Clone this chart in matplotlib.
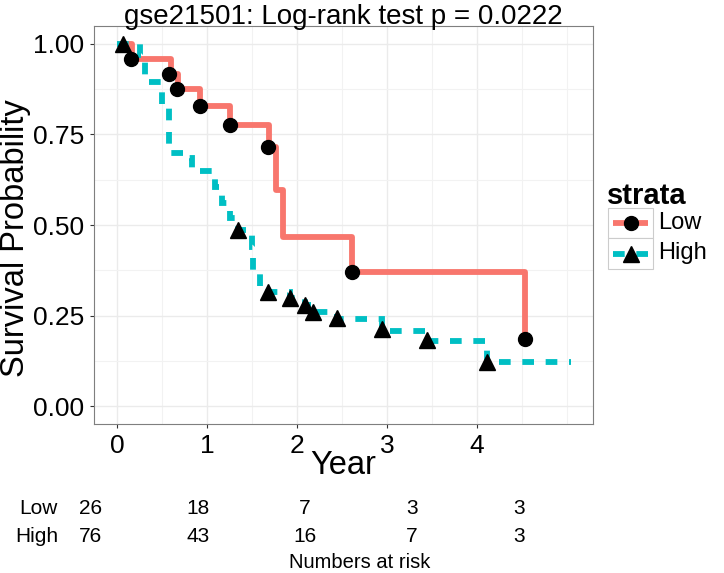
import matplotlib
matplotlib.use("Agg")
import matplotlib.pyplot as plt
from matplotlib.patches import Rectangle
from matplotlib.lines import Line2D

plt.rcParams['font.family'] = ['Liberation Sans', 'DejaVu Sans']

# ---------------- data ----------------
title = "gse21501: Log-rank test p = 0.0222"
strata = ["Low", "High"]

low_times = [0, 0.17, 0.60, 0.68, 0.92, 1.26, 1.69, 1.77, 1.84, 2.61, 4.53]
low_surv = [1.0, 0.958, 0.916, 0.875, 0.829, 0.776, 0.716, 0.597, 0.466, 0.371, 0.184]
low_mark_t = [0.16, 0.58, 0.67, 0.92, 1.26, 1.68, 2.61, 4.53]
low_mark_s = [0.958, 0.916, 0.875, 0.829, 0.776, 0.716, 0.371, 0.184]

high_times = [0, 0.26, 0.31, 0.50, 0.58, 0.76, 0.83, 1.09, 1.17, 1.26, 1.34, 1.50,
              1.51, 1.59, 1.68, 1.92, 2.09, 2.18, 2.44, 2.94, 3.44, 4.11, 5.05]
high_surv = [1.0, 0.97, 0.894, 0.83, 0.70, 0.685, 0.649, 0.605, 0.56, 0.52, 0.486, 0.44,
             0.37, 0.33, 0.315, 0.298, 0.279, 0.260, 0.240, 0.207, 0.180, 0.121, 0.121]
high_mark_t = [0.07, 1.34, 1.68, 1.92, 2.09, 2.18, 2.44, 2.94, 3.44, 4.11]
high_mark_s = [1.0, 0.486, 0.315, 0.298, 0.279, 0.260, 0.243, 0.213, 0.182, 0.122]

x_ticks = [0, 1, 2, 3, 4]
y_ticks = [0.0, 0.25, 0.5, 0.75, 1.0]
y_ticklabels = ["0.00", "0.25", "0.50", "0.75", "1.00"]

risk_times = [0, 1, 2, 3, 4]
risk_low = [26, 18, 7, 3, 3]
risk_high = [76, 43, 16, 7, 3]

c_low = "#F8766D"
c_high = "#00BFC4"

# ---------------- figure ----------------
W, H = 724, 573
fig = plt.figure(figsize=(W / 100, H / 100), dpi=100)


def rect(l, t, r, b):
    return [l / W, 1 - b / H, (r - l) / W, (b - t) / H]


ax = fig.add_axes(rect(94, 26, 593, 424))
ax.set_xlim(-0.256, 5.289)
ax.set_ylim(-0.0497, 1.0497)

ax.set_xticks(x_ticks)
ax.set_xticks([0.5, 1.5, 2.5, 3.5, 4.5, 5.0], minor=True)
ax.set_yticks(y_ticks)
ax.set_yticklabels(y_ticklabels)
ax.set_yticks([0.125, 0.375, 0.625, 0.875], minor=True)
ax.grid(True, which='major', color='#EBEBEB', lw=1.0, zorder=0)
ax.grid(True, which='minor', color='#F2F2F2', lw=0.8, zorder=0)
ax.set_axisbelow(True)
ax.tick_params(which='major', length=3, width=0.8, color='#333333',
               labelsize=19, labelcolor='black', pad=4)
ax.tick_params(which='minor', length=0)
for s in ax.spines.values():
    s.set_color('#7F7F7F')
    s.set_linewidth(0.8)

ax.step(low_times, low_surv, where='post', color=c_low, lw=4.2,
        solid_joinstyle='round', solid_capstyle='butt', zorder=3)
ax.step(high_times, high_surv, where='post', color=c_high, lw=4.2,
        dashes=(2, 2), dash_capstyle='butt', dash_joinstyle='miter', zorder=3)
ax.plot(low_mark_t, low_mark_s, 'o', color='black', ms=10, zorder=4)
ax.plot(high_mark_t, high_mark_s, '^', color='black', ms=12, zorder=4)

fig.text(343.5 / W, 1 - 24 / H, title, fontsize=20, ha='center', va='baseline')

fig.text(343.5 / W, 1 - 466 / H, "Year", fontsize=23.5, ha='center', va='center')
fig.text(16 / W, 1 - 238 / H, "Survival Probability", fontsize=23.5,
         ha='center', va='center', rotation=90)

# ---------------- legend (manual, ggplot style) ----------------
leg = fig.add_axes([0, 0, 1, 1])
leg.set_xlim(0, W)
leg.set_ylim(H, 0)
leg.axis('off')
leg.text(607, 196, "strata", fontsize=21, fontweight='bold', ha='left', va='center')
key_rows = [(208, 238, c_low, 'o', 10, None, strata[0]),
            (238, 269, c_high, '^', 12, (2, 2), strata[1])]
for top, bot, col, mk, ms, dsh, lab in key_rows:
    leg.add_patch(Rectangle((608, top), 45, bot - top, facecolor='white',
                            edgecolor='#CCCCCC', lw=0.8))
    yc = (top + bot) / 2
    kw = dict(color=col, lw=4.2, solid_capstyle='butt')
    if dsh:
        kw['dashes'] = dsh
    leg.add_line(Line2D([613, 648], [yc, yc], **kw))
    leg.plot([630.5], [yc], mk, color='black', ms=ms)
    leg.text(658, yc, lab, fontsize=17, ha='left', va='center')

# ---------------- numbers at risk table ----------------
tab = fig.add_axes(rect(63.6, 495, 657, 550))
tab.set_xlim(-0.256, 5.289)
tab.set_ylim(0, 2)
tab.axis('off')
rows = [(1.5, risk_low, strata[0]), (0.5, risk_high, strata[1])]
for yv, vals, lab in rows:
    for t, v in zip(risk_times, vals):
        tab.text(t, yv, str(v), fontsize=15, ha='center', va='center')
fig.text(58 / W, 1 - 508 / H, strata[0], fontsize=15, ha='right', va='center')
fig.text(58 / W, 1 - 536 / H, strata[1], fontsize=15, ha='right', va='center')
fig.text(360 / W, 1 - 562 / H, "Numbers at risk", fontsize=14.5, ha='center', va='center')

fig.savefig("out.png", dpi=100)
